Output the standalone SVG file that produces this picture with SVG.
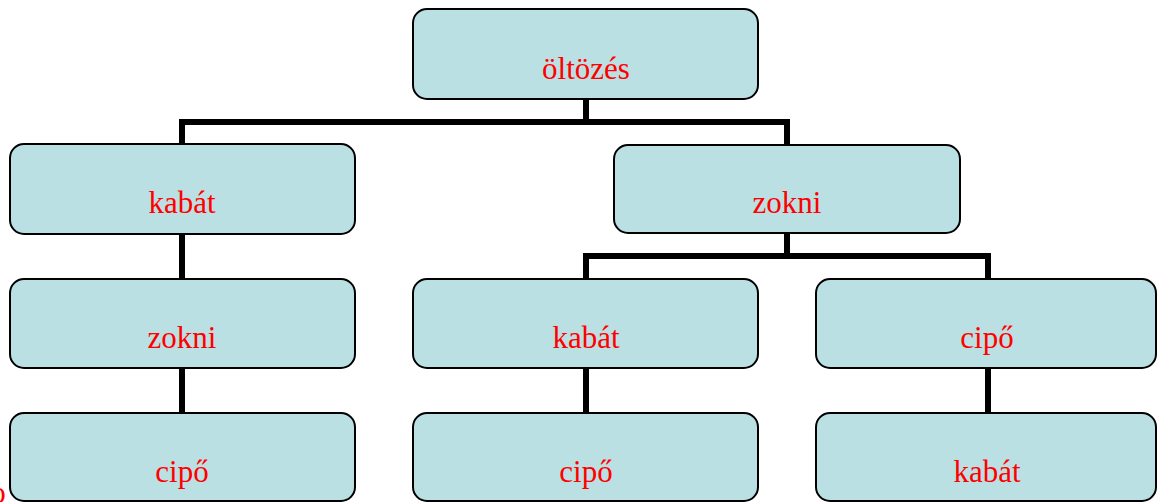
<svg xmlns="http://www.w3.org/2000/svg" width="1157" height="502" viewBox="0 0 1157 502">
  <style>
    .box { fill: #bae0e3; stroke: #000; stroke-width: 2; }
    .lbl { font-family: "Liberation Serif", "Times New Roman", serif; font-size: 31px; fill: #ff0000; text-anchor: middle; }
    .wire { fill: none; stroke: #000; stroke-width: 6; stroke-linejoin: miter; stroke-linecap: butt; }
  </style>
  <rect width="1157" height="502" fill="#ffffff"/>

  <!-- tree connectors -->
  <g id="connectors">
    <path class="wire" d="M586,99 V122 M182,144 V122 H787 V145"/>
    <path class="wire" d="M182,234 V279"/>
    <path class="wire" d="M182,368 V413"/>
    <path class="wire" d="M787,233 V256 M586,279 V256 H988 V279"/>
    <path class="wire" d="M586,368 V413"/>
    <path class="wire" d="M988,368 V413"/>
  </g>

  <g id="n-oltozes">
    <rect class="box" x="413" y="9" width="345" height="90" rx="14"/>
    <text class="lbl" x="586" y="79">öltözés</text>
  </g>
  <g id="n-kabat-1">
    <rect class="box" x="10" y="144" width="345" height="90" rx="14"/>
    <text class="lbl" x="182" y="213">kabát</text>
  </g>
  <g id="n-zokni-1">
    <rect class="box" x="614" y="145" width="346" height="88" rx="14"/>
    <text class="lbl" x="787" y="213">zokni</text>
  </g>
  <g id="n-zokni-2">
    <rect class="box" x="10" y="279" width="345" height="89" rx="14"/>
    <text class="lbl" x="182" y="348">zokni</text>
  </g>
  <g id="n-kabat-2">
    <rect class="box" x="413" y="279" width="345" height="89" rx="14"/>
    <text class="lbl" x="586" y="348">kabát</text>
  </g>
  <g id="n-cipo-1">
    <rect class="box" x="816" y="279" width="340" height="89" rx="14"/>
    <text class="lbl" x="987" y="348">cipő</text>
  </g>
  <g id="n-cipo-2">
    <rect class="box" x="10" y="413" width="345" height="88" rx="14"/>
    <text class="lbl" x="182" y="482">cipő</text>
  </g>
  <g id="n-cipo-3">
    <rect class="box" x="413" y="413" width="345" height="88" rx="14"/>
    <text class="lbl" x="586" y="482">cipő</text>
  </g>
  <g id="n-kabat-3">
    <rect class="box" x="816" y="413" width="340" height="88" rx="14"/>
    <text class="lbl" x="987" y="482">kabát</text>
  </g>

  <!-- stray glyph clipped at the left edge -->
  <text class="lbl" x="-2" y="503">o</text>
</svg>
